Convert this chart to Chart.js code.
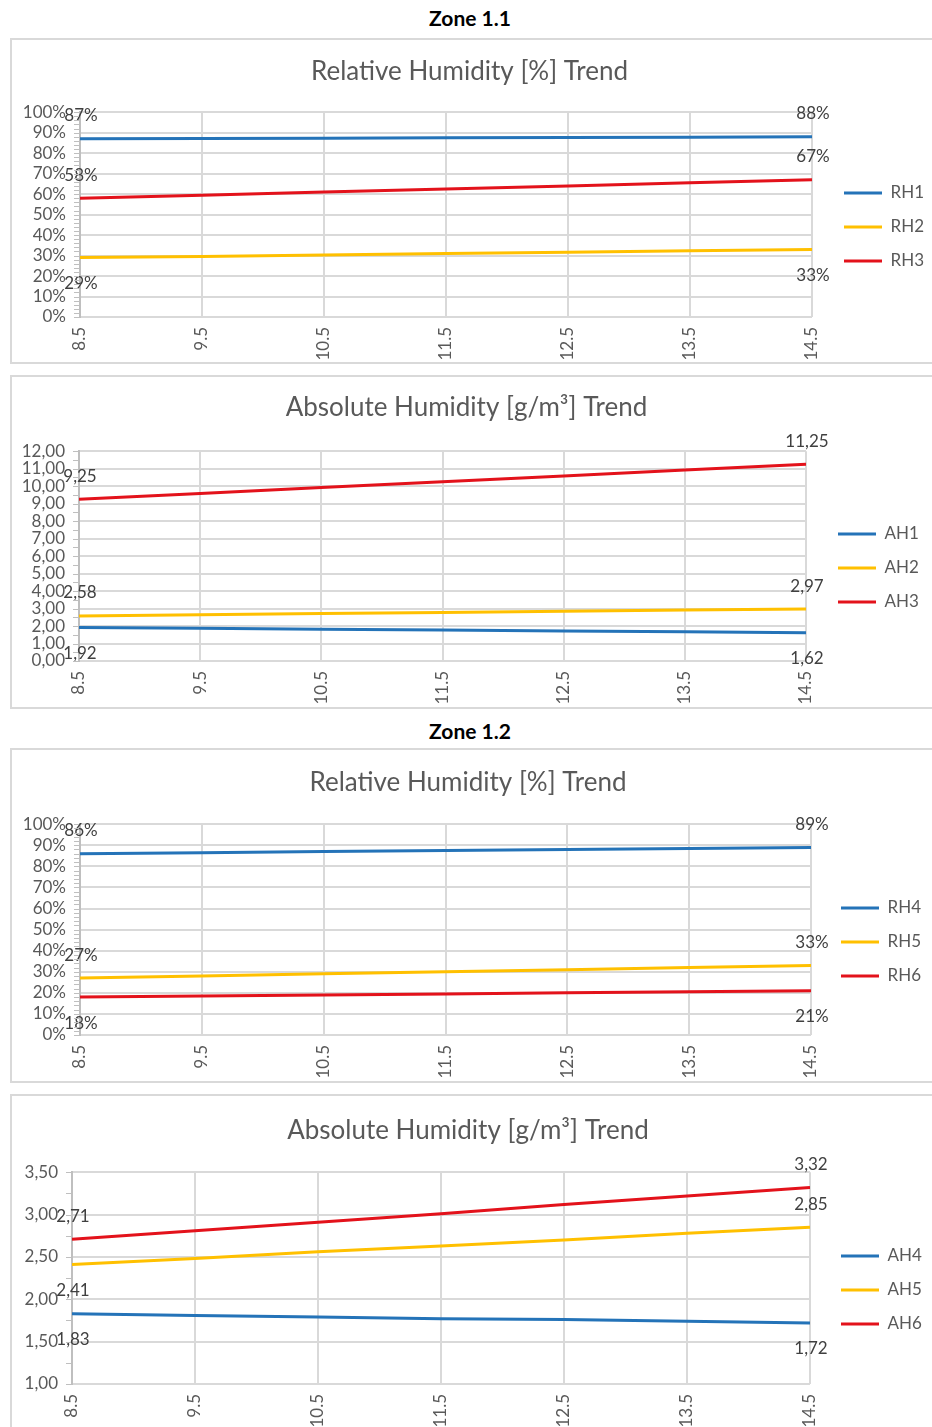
<!DOCTYPE html>
<html>
<head>
<meta charset="utf-8">
<title>Humidity Trends</title>
<script src="https://cdn.jsdelivr.net/npm/chart.js@4.4.0/dist/chart.umd.min.js"></script>
<style>
  html, body { margin: 0; padding: 0; background: #fff; overflow: hidden; }
  body { width: 932px; height: 1427px; position: relative; font-family: Lato, sans-serif; }
  .zone { position: absolute; left: 0; width: 940px; text-align: center; font-weight: bold; font-size: 21px; color: #000; }
  .panel { position: absolute; left: 10px; width: 942px; border: 2px solid #d9d9d9; box-sizing: border-box; background: #fff; }
  .panel canvas { display: block; }
</style>
</head>
<body>
<div class="zone" style="top:5px">Zone 1.1</div>
<div class="panel" style="top:38px;height:326px"><canvas id="rhZone11"></canvas></div>
<div class="panel" style="top:375px;height:334px"><canvas id="ahZone11"></canvas></div>
<div class="zone" style="top:718px">Zone 1.2</div>
<div class="panel" style="top:748px;height:335px"><canvas id="rhZone12"></canvas></div>
<div class="panel" style="top:1094px;height:338px"><canvas id="ahZone12"></canvas></div>

<script>
// x axis: hour of day
const hours = [8.5, 9.5, 10.5, 11.5, 12.5, 13.5, 14.5];

// Zone 1.1
const rh1 = [87, 87.2, 87.3, 87.5, 87.7, 87.8, 88];
const rh2 = [29, 29.6, 30.3, 31, 31.6, 32.3, 33];
const rh3 = [58, 59.5, 61, 62.5, 64, 65.5, 67];
const ah1 = [1.92, 1.87, 1.82, 1.77, 1.72, 1.67, 1.62];
const ah2 = [2.58, 2.65, 2.71, 2.78, 2.84, 2.91, 2.97];
const ah3 = [9.25, 9.58, 9.92, 10.25, 10.58, 10.92, 11.25];

// Zone 1.2
const rh4 = [86, 86.5, 87, 87.5, 88, 88.5, 89];
const rh5 = [27, 28, 29, 30, 31, 32, 33];
const rh6 = [18, 18.5, 19, 19.5, 20, 20.5, 21];
const ah4 = [1.83, 1.81, 1.79, 1.77, 1.76, 1.74, 1.72];
const ah5 = [2.41, 2.48, 2.56, 2.63, 2.70, 2.78, 2.85];
const ah6 = [2.71, 2.81, 2.91, 3.01, 3.12, 3.22, 3.32];

// y axis tick labels
const rhTicks = [0, 10, 20, 30, 40, 50, 60, 70, 80, 90, 100];
const ahTicksZone11 = [0, 1, 2, 3, 4, 5, 6, 7, 8, 9, 10, 11, 12];
const ahTicksZone12 = [1, 1.5, 2, 2.5, 3, 3.5];

const BLUE = '#2473b8';
const YELLOW = '#ffc000';
const RED = '#e3121b';
const GREY_TEXT = '#595959';
const FONT = 'Lato, sans-serif';

Chart.defaults.font.family = FONT;

function fmtValue(v, unit) {
    if (unit === '%') return Math.round(v) + '%';
    return v.toFixed(2).replace('.', ',');
}

// etiquetas en el primer y último punto de cada serie
const endLabels = {
    id: 'endLabels',
    afterDatasetsDraw(chart, args, opts) {
        const ctx = chart.ctx;
        ctx.save();
        ctx.font = '17px ' + FONT;
        ctx.fillStyle = '#404040';
        ctx.textAlign = 'center';
        ctx.textBaseline = 'middle';
        chart.data.datasets.forEach((ds, i) => {
            const pts = chart.getDatasetMeta(i).data;
            [0, pts.length - 1].forEach((j, k) => {
                const p = pts[j];
                const dy = ds.labelSides[k] === 'below' ? 26 : -23;
                ctx.fillText(fmtValue(ds.data[j].y, opts.unit), p.x + 1, p.y + dy);
            });
        });
        ctx.restore();
    }
};

// marcas menores sobre el eje y
const minorTicks = {
    id: 'minorTicks',
    afterDraw(chart, args, opts) {
        const y = chart.scales.y;
        const ctx = chart.ctx;
        ctx.save();
        ctx.strokeStyle = '#bfbfbf';
        ctx.lineWidth = 1;
        for (let v = y.min; v <= y.max + 1e-9; v += opts.step) {
            const py = Math.round(y.getPixelForValue(v)) + 0.5;
            ctx.beginPath();
            ctx.moveTo(y.right - 6, py);
            ctx.lineTo(y.right - 1, py);
            ctx.stroke();
        }
        ctx.restore();
    }
};

function trendChart(id, cfg) {
    return new Chart(document.getElementById(id), {
        type: 'line',
        data: {
            datasets: cfg.series.map(s => ({
                label: s.name,
                data: hours.map((h, i) => ({ x: h, y: s.values[i] })),
                borderColor: s.color,
                backgroundColor: s.color,
                borderWidth: 3,
                pointRadius: 0,
                tension: 0,
                labelSides: s.sides
            }))
        },
        plugins: [endLabels, minorTicks],
        options: {
            responsive: true,
            maintainAspectRatio: false,
            animation: false,
            layout: { padding: { left: 0, right: cfg.padRight, top: 0, bottom: 0 } },
            plugins: {
                tooltip: { enabled: false },
                title: {
                    display: true,
                    text: cfg.title,
                    color: GREY_TEXT,
                    font: { size: 26, weight: 'normal' },
                    padding: { top: cfg.titleTop, bottom: cfg.titleBottom }
                },
                legend: {
                    position: 'right',
                    maxWidth: 100,
                    title: { display: true, text: '', font: { size: 17 }, padding: { top: cfg.legendShift - 20.4, bottom: 0 } },
                    labels: {
                        usePointStyle: true,
                        pointStyle: 'line',
                        pointStyleWidth: 38,
                        padding: 17,
                        color: GREY_TEXT,
                        font: { size: 17 }
                    }
                },
                endLabels: { unit: cfg.unit },
                minorTicks: { step: cfg.minorStep }
            },
            scales: {
                x: {
                    type: 'linear',
                    min: hours[0],
                    max: hours[hours.length - 1],
                    afterBuildTicks: s => { s.ticks = hours.map(v => ({ value: v })); },
                    afterFit: s => { s.height = cfg.xHeight; },
                    grid: { color: '#d9d9d9', lineWidth: 2, drawTicks: false },
                    border: { display: false },
                    ticks: {
                        autoSkip: false,
                        minRotation: 90,
                        maxRotation: 90,
                        padding: 10,
                        color: GREY_TEXT,
                        font: { size: 17 },
                        callback: v => v.toFixed(1)
                    }
                },
                y: {
                    min: cfg.yTicks[0],
                    max: cfg.yTicks[cfg.yTicks.length - 1],
                    afterBuildTicks: s => { s.ticks = cfg.yTicks.map(v => ({ value: v })); },
                    afterFit: s => { s.width = cfg.yWidth; },
                    grid: { color: '#d9d9d9', lineWidth: 2, drawTicks: false },
                    border: { color: '#bfbfbf', width: 2 },
                    ticks: {
                        autoSkip: false,
                        padding: 14,
                        color: GREY_TEXT,
                        font: { size: 17 },
                        callback: v => cfg.unit === '%' ? v + '%' : v.toFixed(2).replace('.', ',')
                    }
                },
                gap: {
                    position: 'right',
                    afterFit: s => { s.width = cfg.gap; },
                    grid: { display: false },
                    border: { display: false },
                    ticks: { display: false }
                }
            }
        }
    });
}

trendChart('rhZone11', {
    title: 'Relative Humidity [%] Trend', unit: '%', yTicks: rhTicks, minorStep: 2,
    titleTop: 16, titleBottom: 25, xHeight: 45, yWidth: 68, gap: 15, padRight: 23, legendShift: 52,
    series: [
        { name: 'RH1', values: rh1, color: BLUE, sides: ['above', 'above'] },
        { name: 'RH2', values: rh2, color: YELLOW, sides: ['below', 'below'] },
        { name: 'RH3', values: rh3, color: RED, sides: ['above', 'above'] }
    ]
});

trendChart('ahZone11', {
    title: 'Absolute Humidity [g/m³] Trend', unit: 'g', yTicks: ahTicksZone11, minorStep: 0.5,
    titleTop: 15, titleBottom: 28, xHeight: 46, yWidth: 67, gap: 15, padRight: 29, legendShift: 52,
    series: [
        { name: 'AH1', values: ah1, color: BLUE, sides: ['below', 'below'] },
        { name: 'AH2', values: ah2, color: YELLOW, sides: ['above', 'above'] },
        { name: 'AH3', values: ah3, color: RED, sides: ['above', 'above'] }
    ]
});

trendChart('rhZone12', {
    title: 'Relative Humidity [%] Trend', unit: '%', yTicks: rhTicks, minorStep: 2,
    titleTop: 17, titleBottom: 26, xHeight: 46, yWidth: 68, gap: 13, padRight: 26, legendShift: 53,
    series: [
        { name: 'RH4', values: rh4, color: BLUE, sides: ['above', 'above'] },
        { name: 'RH5', values: rh5, color: YELLOW, sides: ['above', 'above'] },
        { name: 'RH6', values: rh6, color: RED, sides: ['below', 'below'] }
    ]
});

trendChart('ahZone12', {
    title: 'Absolute Humidity [g/m³] Trend', unit: 'g', yTicks: ahTicksZone12, minorStep: 0.25,
    titleTop: 19, titleBottom: 26, xHeight: 46, yWidth: 60, gap: 14, padRight: 26, legendShift: 54,
    series: [
        { name: 'AH4', values: ah4, color: BLUE, sides: ['below', 'below'] },
        { name: 'AH5', values: ah5, color: YELLOW, sides: ['below', 'above'] },
        { name: 'AH6', values: ah6, color: RED, sides: ['above', 'above'] }
    ]
});
</script>
</body>
</html>
